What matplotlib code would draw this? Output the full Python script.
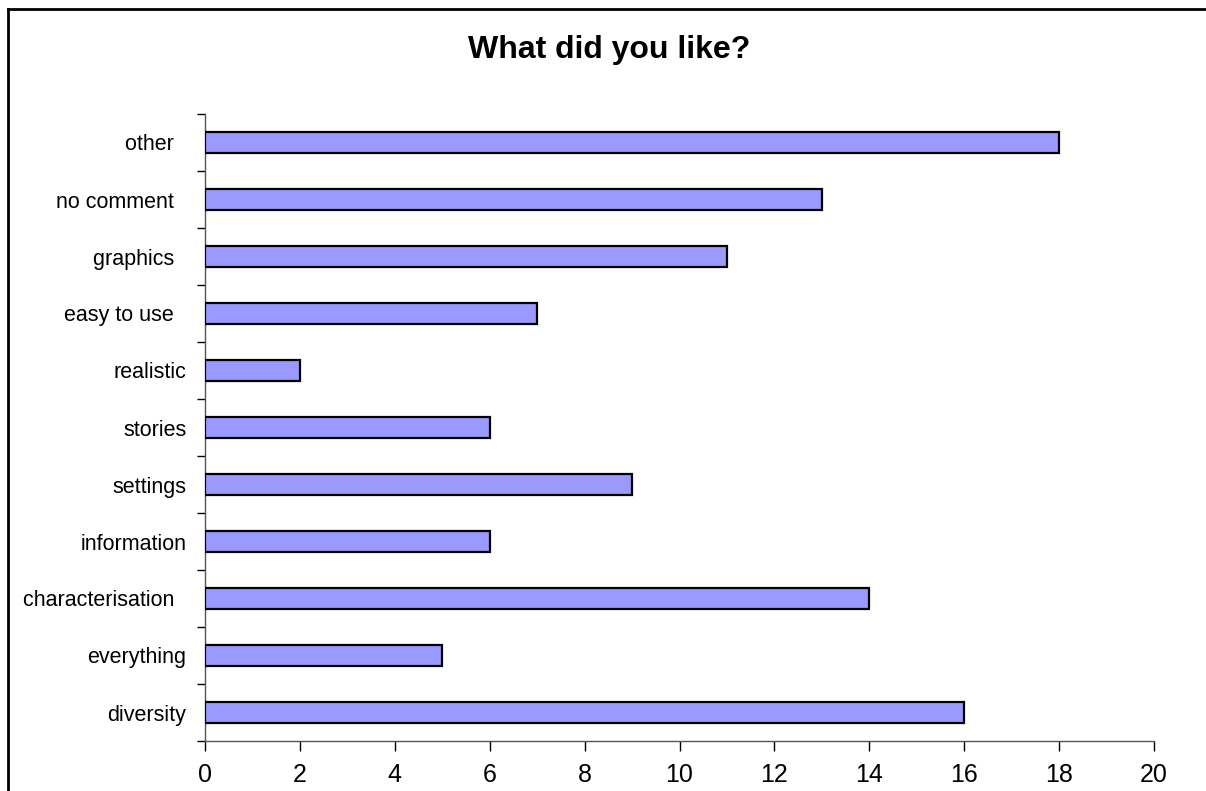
import matplotlib
matplotlib.use('Agg')
import matplotlib.pyplot as plt
import numpy as np
from matplotlib.lines import Line2D

plt.rcParams['font.family'] = ['Liberation Sans', 'DejaVu Sans']

# Survey answers, bottom to top
categories = ['diversity', 'everything', 'characterisation  ', 'information', 'settings',
              'stories', 'realistic', 'easy to use  ', 'graphics  ', 'no comment  ', 'other  ']
counts = [16, 5, 14, 6, 9, 6, 2, 7, 11, 13, 18]
x_ticks = [0, 2, 4, 6, 8, 10, 12, 14, 16, 18, 20]

fig = plt.figure(figsize=(12.06, 7.91), dpi=100)
ax = fig.add_axes([205/1206, 1 - 741/791, (1154-205)/1206, (741-114)/791])

ypos = np.arange(len(categories))
ax.barh(ypos, counts, height=0.38, color='#9999FF', edgecolor='black', linewidth=1.6, zorder=3)

ax.set_xlim(0, 20)
ax.set_ylim(-0.5, len(categories) - 0.5)
ax.set_xticks(x_ticks)
ax.set_xticklabels([str(v) for v in x_ticks], fontsize=18)
ax.set_yticks(ypos)
ax.set_yticklabels(categories, fontsize=15.5)
ax.set_yticks(np.arange(len(categories) + 1) - 0.5, minor=True)
ax.tick_params(axis='y', which='major', length=0, pad=13.5)
ax.tick_params(axis='y', which='minor', length=6, width=1, color='black')
ax.tick_params(axis='x', length=7, width=1, color='black', pad=9)

for side in ['top', 'right']:
    ax.spines[side].set_visible(False)
for side in ['left', 'bottom']:
    ax.spines[side].set_color('#555555')
    ax.spines[side].set_linewidth(1)

fig.text(609/1206, 1 - 50/791, 'What did you like?', fontsize=23, fontweight='bold',
         ha='center', va='center')

# outer chart frame (only top and left edges visible)
fig.add_artist(Line2D([8/1206, 1], [1 - 9/791, 1 - 9/791], transform=fig.transFigure,
                      color='black', linewidth=2))
fig.add_artist(Line2D([8/1206, 8/1206], [0, 1 - 9/791], transform=fig.transFigure,
                      color='black', linewidth=2))

plt.savefig('out.png', dpi=100)
plt.close()
